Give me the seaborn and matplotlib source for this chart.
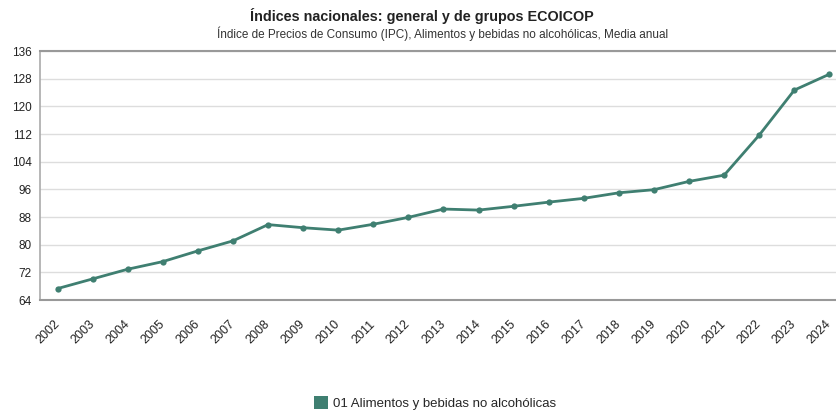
import matplotlib
matplotlib.use("Agg")
import matplotlib.pyplot as plt
import seaborn as sns
import pandas as pd
import numpy as np

years = [str(y) for y in range(2002, 2025)]
values = [67.3, 70.1, 72.9, 75.1, 78.2, 81.1, 85.8, 84.9, 84.2, 85.9, 87.9,
          90.3, 90.0, 91.1, 92.3, 93.4, 95.0, 95.9, 98.3, 100.1, 111.7, 124.7, 129.3]
y_ticks = [64, 72, 80, 88, 96, 104, 112, 120, 128, 136]
series_name = "01 Alimentos y bebidas no alcohólicas"
title = "Índices nacionales: general y de grupos ECOICOP"
subtitle = "Índice de Precios de Consumo (IPC), Alimentos y bebidas no alcohólicas, Media anual"

sns.set_theme(style="white")
plt.rcParams["font.family"] = ["Liberation Sans", "DejaVu Sans"]

color = "#3f7f71"
df = pd.DataFrame({"year": years, "value": values, "pos": np.arange(len(years))})

fig = plt.figure(figsize=(8.37, 4.11), dpi=100)
ax = fig.add_axes([40 / 837, 1 - 300 / 411, 807 / 837, 249 / 411])

sns.lineplot(data=df, x="pos", y="value", ax=ax, color=color, linewidth=2,
             marker="o", markersize=4.5, markeredgewidth=0, legend=False)

ax.set_xlim(-0.5, len(years) - 0.5)
ax.set_ylim(64, 136)
ax.set_yticks(y_ticks)
ax.set_yticklabels([str(v) for v in y_ticks], fontsize=8.5, color="#222222")
ax.set_xticks(np.arange(len(years)))
ax.set_xticklabels(years, rotation=45, ha="right", va="center",
                   rotation_mode="anchor", fontsize=9, color="#222222")
ax.set_xticks(np.arange(len(years)) + 0.5, minor=True)
ax.tick_params(axis="x", which="major", length=0, pad=16)
ax.tick_params(axis="x", which="minor", length=5, color="#999999", width=1)
ax.tick_params(axis="y", length=4, color="#999999", width=1, pad=2)
ax.set_xlabel("")
ax.set_ylabel("")

ax.yaxis.grid(True, color="#dddddd", linewidth=1)
ax.set_axisbelow(True)
ax.spines["right"].set_visible(False)
ax.spines["top"].set_color("#999999")
ax.spines["top"].set_linewidth(1.5)
ax.spines["left"].set_color("#aaaaaa")
ax.spines["left"].set_linewidth(1.2)
ax.spines["bottom"].set_color("#999999")
ax.spines["bottom"].set_linewidth(1.5)

fig.text(422 / 837, 1 - 16 / 411, title, ha="center", va="center",
         fontsize=10.4, fontweight="bold", color="#222222")
fig.text(443 / 837, 1 - 34 / 411, subtitle, ha="center", va="center",
         fontsize=8.5, color="#333333")

handle = plt.Rectangle((0, 0), 1, 1, facecolor=color, edgecolor="none")
fig.legend([handle], [series_name], loc="center", bbox_to_anchor=(435 / 837, 1 - 403 / 411),
           frameon=False, fontsize=9.5, handlelength=1.1, handleheight=1.1, handletextpad=0.4)

fig.savefig("out.png", dpi=100)
